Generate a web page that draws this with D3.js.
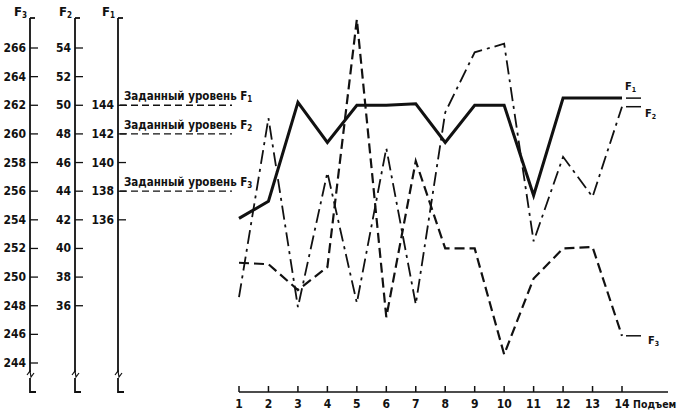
<!DOCTYPE html>
<html><head><meta charset="utf-8">
<script src="https://cdn.jsdelivr.net/npm/d3@7"></script>
<style>body{margin:0;background:#fff}text{font-family:"DejaVu Sans Condensed","DejaVu Sans",sans-serif;fill:#111}</style>
</head><body><svg id="c" width="678" height="414"></svg>
<script>
const lifts = [1,2,3,4,5,6,7,8,9,10,11,12,13,14];
const f1 = [136.1,137.3,144.2,141.4,144.0,144.0,144.1,141.4,144.0,144.0,137.7,144.5,144.5,144.5];
const f2 = [36.6,49.1,35.9,45.3,36.2,47.0,36.1,49.5,53.7,54.3,40.5,46.4,43.6,49.9];
const f3 = [251.0,250.9,249.1,250.7,268.0,247.2,258.1,252.0,252.0,244.6,249.9,252.0,252.1,245.9];
const f3Ticks = [244,246,248,250,252,254,256,258,260,262,264,266];
const f2Ticks = [36,38,40,42,44,46,48,50,52,54];
const f1Ticks = [136,138,140,142,144];
const targets = [{name:"1", v:144},{name:"2", v:142},{name:"3", v:138}];

const svg = d3.select("#c");
const ink = "#111";
// one vertical scale in F3 units; F2 = F3-212, F1 = F3-118
const y3 = d3.scaleLinear().domain([244,266]).range([363,48]);
const y2 = d3.scaleLinear().domain([244-212,266-212]).range([363,48]);
const y1 = d3.scaleLinear().domain([244-118,266-118]).range([363,48]);
const x = d3.scaleLinear().domain([1,14]).range([239,622]);

function vAxis(ax, scale, ticks, name) {
  const g = svg.append("g").attr("stroke", ink).attr("fill","none").attr("stroke-width",1.8);
  g.append("path").attr("d", `M${ax},18 V372 M${ax},378 V392 H${ax+6}`);
  g.append("path").attr("stroke-width",1.2).attr("d", `M${ax-3},375 l3,-4 l1,6 l3,-4`);
  g.append("path").attr("d", `M${ax},18 H${ax+5}`);
  ticks.forEach(t => g.append("line").attr("x1",ax).attr("x2",ax+8)
    .attr("y1",scale(t)).attr("y2",scale(t)).attr("stroke-width",1.3));
  svg.append("g").selectAll("text").data(ticks).join("text")
    .attr("x", ax-4).attr("y", d => scale(d)+4).attr("text-anchor","end")
    .attr("font-size",12).attr("font-weight","bold").text(d => d);
  const lab = svg.append("text").attr("x", ax-3).attr("y",16).attr("text-anchor","end")
    .attr("font-size",13).attr("font-weight","bold");
  lab.append("tspan").text("F");
  lab.append("tspan").attr("font-size",8).attr("dy",2).text(name);
}
vAxis(30, y3, f3Ticks, "3");
vAxis(75, y2, f2Ticks, "2");
vAxis(118, y1, f1Ticks, "1");

// target levels
targets.forEach(t => {
  const yy = y1(t.v);
  svg.append("line").attr("x1",120).attr("x2",232).attr("y1",yy).attr("y2",yy)
    .attr("stroke",ink).attr("stroke-width",1.3).attr("stroke-dasharray","7,4");
  const tx = svg.append("text").attr("x",124).attr("y",yy-5).attr("font-size",11.5).attr("font-weight","bold");
  tx.append("tspan").text("Заданный уровень F");
  tx.append("tspan").attr("font-size",8).attr("dy",2).text(t.name);
});

// x axis
const xa = svg.append("g").attr("stroke",ink).attr("stroke-width",1.5);
xa.append("line").attr("x1",x(1)).attr("x2",668).attr("y1",392).attr("y2",392);
lifts.forEach(d => xa.append("line").attr("x1",x(d)).attr("x2",x(d)).attr("y1",392).attr("y2",386));
svg.append("g").selectAll("text").data(lifts).join("text")
  .attr("x", d => x(d)).attr("y",408).attr("text-anchor","middle")
  .attr("font-size",12).attr("font-weight","bold").text(d => d);
svg.append("text").attr("x",633).attr("y",408).attr("font-size",10.5).attr("font-weight","bold").text("Подъем");

// series
const line = s => d3.line().x((d,i) => x(lifts[i])).y(d => s(d));
const series = [
  {data:f1, s:y1, w:3, dash:null, name:"1", lx:625, ly:y1(f1[13])-8},
  {data:f2, s:y2, w:1.8, dash:"14,5,3,5", name:"2", lx:645, ly:y2(f2[13])+10},
  {data:f3, s:y3, w:2.2, dash:"10,5", name:"3", lx:648, ly:y3(f3[13])+8}
];
series.forEach(r => {
  svg.append("path").datum(r.data).attr("d", line(r.s)).attr("fill","none")
    .attr("stroke",ink).attr("stroke-width",r.w).attr("stroke-dasharray",r.dash)
    .attr("stroke-linejoin","miter");
  const ye = r.s(r.data[13]);
  svg.append("line").attr("x1",626).attr("x2",641).attr("y1",ye).attr("y2",ye)
    .attr("stroke",ink).attr("stroke-width",1.5);
  const t = svg.append("text").attr("x",r.lx).attr("y",r.ly).attr("font-size",11).attr("font-weight","bold");
  t.append("tspan").text("F");
  t.append("tspan").attr("font-size",7).attr("dy",2).text(r.name);
});
</script></body></html>
